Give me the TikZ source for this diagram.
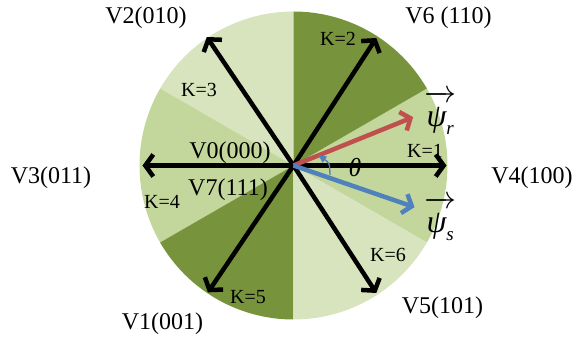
\RequirePackage{fix-cm}
\documentclass[tikz,border=0pt]{standalone}
\usepackage{fontspec}
\setmainfont{Liberation Serif}
\usetikzlibrary{arrows.meta}
\definecolor{secdark}{RGB}{119,147,60}
\definecolor{secmid}{RGB}{195,214,155}
\definecolor{seclight}{RGB}{215,228,189}
\definecolor{psired}{RGB}{192,80,77}
\definecolor{psiblue}{RGB}{79,129,189}
\newcommand{\fluxvec}[1]{$\overrightarrow{\mbox{\rule{0pt}{0.78em}\itshape ψ}_{\mbox{\fontsize{19}{19}\selectfont\itshape #1}}}$}
\tikzset{
  vecarrow/.style={line width=4.5pt, -{Straight Barb[length=8pt,width=22pt]}},
  fluxarrow/.style={line width=4.5pt, -{Straight Barb[length=8pt,width=20pt]}},
  vlabel/.style={font=\fontsize{24}{24}\selectfont},
  klabel/.style={font=\fontsize{20}{20}\selectfont},
  psilabel/.style={font=\fontsize{32}{32}\selectfont},
}

\begin{document}
\begin{tikzpicture}[x=1pt,y=1pt]
  \useasboundingbox (-293.5,-177.5) rectangle (279.5,165.5);
  \coordinate (O) at (0,0);

  % Sectors
  \foreach \a/\c in {-30/secmid,30/secdark,90/seclight,150/secmid,210/secdark,270/seclight}
    \fill[\c] (O) -- (\a:154) arc[start angle=\a, delta angle=60, radius=154] -- cycle;

  % Voltage vectors
  \coordinate (v4) at (0:153);
  \coordinate (v6) at (57:152);
  \coordinate (v2) at (124:155);
  \coordinate (v3) at (180:151);
  \coordinate (v1) at (236:153);
  \coordinate (v5) at (303:152);
  \foreach \v in {v4,v6,v2,v3,v1,v5}
    \draw[vecarrow] (O) -- (\v);

  % Flux vectors
  \coordinate (psir) at (22:129);
  \coordinate (psis) at (-19:128);
  \draw[fluxarrow, psired] (O) -- (psir);
  \draw[fluxarrow, psiblue] (O) -- (psis);

  % Angle theta
  \coordinate (th1) at (36.5,-9.5);
  \coordinate (th2) at (24,11);
  \draw[psiblue, line width=1.3pt, -{Latex[length=9pt,width=8pt]}] (th1) .. controls +(92:12) .. (th2);
  \node[font=\fontsize{26}{26}\selectfont\itshape] (theta) at (61.5,-2) {θ};

  % Vector labels
  \node[vlabel] (l4) at (238.5,-12.5) {V4(100)};
  \node[vlabel] (l6) at (155,147.5) {V6 (110)};
  \node[vlabel] (l2) at (-147.5,147.5) {V2(010)};
  \node[vlabel] (l3) at (-242.5,-12.5) {V3(011)};
  \node[vlabel] (l1) at (-131,-158.5) {V1(001)};
  \node[vlabel] (l5) at (149,-142.5) {V5(101)};
  \node[vlabel] (l0) at (-63.5,12.5) {V0(000)};
  \node[vlabel] (l7) at (-65.5,-24.5) {V7(111)};

  % Sector labels
  \node[klabel] (k1) at (131.5,14.5) {K=1};
  \node[klabel] (k2) at (44.5,126.5) {K=2};
  \node[klabel] (k3) at (-94.5,75.5) {K=3};
  \node[klabel] (k4) at (-131.5,-36.5) {K=4};
  \node[klabel] (k5) at (-45.5,-131.5) {K=5};
  \node[klabel] (k6) at (94.5,-89.5) {K=6};

  % Flux labels
  \node[psilabel] (lr) at (147,53) {\fluxvec{r}};
  \node[psilabel] (ls) at (147,-53) {\fluxvec{s}};
\end{tikzpicture}
\end{document}
